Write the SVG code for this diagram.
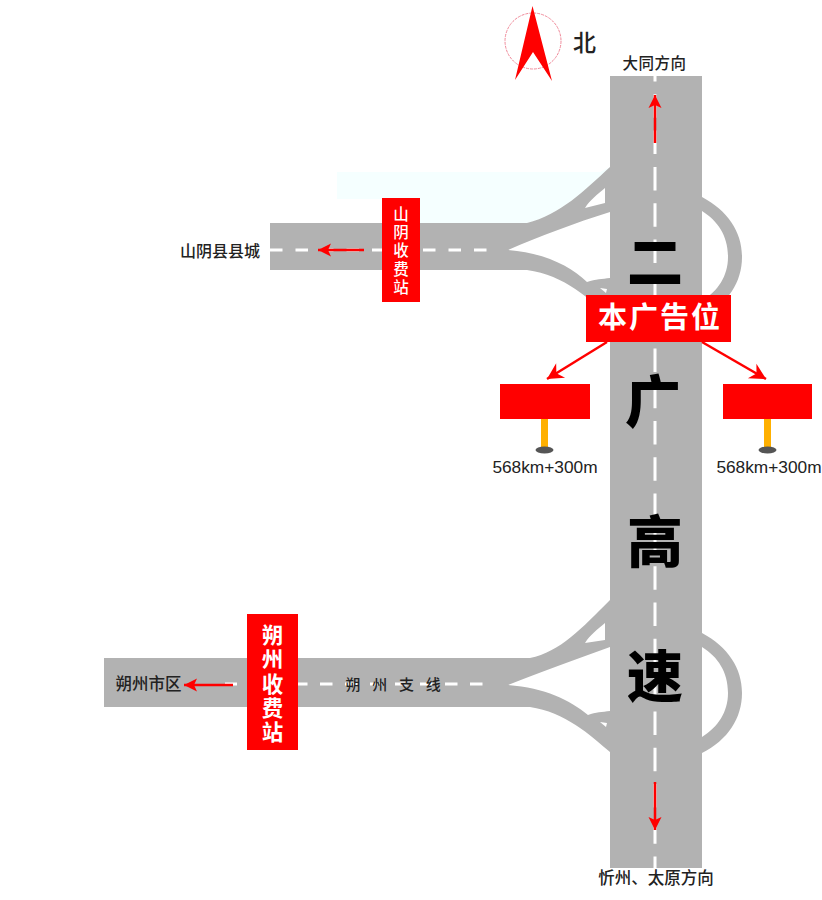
<svg xmlns="http://www.w3.org/2000/svg" width="822" height="900" viewBox="0 0 822 900">
<style>
text{font-family:"Noto Sans CJK SC","Liberation Sans",sans-serif;text-anchor:middle}
.road{fill:#b2b2b2}
.hole{fill:#fff}
.dash{fill:none;stroke:#fff;stroke-width:3}
.lab{font-size:15.5px;fill:#222;font-weight:500}
.big{font-size:56px;font-weight:900;fill:#000}
.sign{fill:#f00}
.s1{font-size:15.5px;fill:#fff;font-weight:500;writing-mode:vertical-rl;letter-spacing:2.9px}
.s2{font-size:21.5px;fill:#fff;font-weight:700;writing-mode:vertical-rl;letter-spacing:2.8px}
.km{font-family:"Liberation Sans",sans-serif;font-size:17.3px;fill:#222}
.ln{fill:none;stroke:#f00;stroke-width:2.5}
</style>
<defs>
<marker id="ah" markerUnits="userSpaceOnUse" markerWidth="14" markerHeight="14" refX="13" refY="7" orient="auto"><path d="M0,0.5 L13,7 L0,13.500 L3,7Z" fill="#f00"/></marker>
<marker id="ad" markerUnits="userSpaceOnUse" markerWidth="19" markerHeight="18" refX="18" refY="9" orient="auto"><path d="M2,0.5 L18,9 L2,17.500 L7,9Z" fill="#f00"/></marker>
</defs>
<g id="backdrop"><path d="M337,172 H600 L610,167 C585,190 560,215 527,223 H420 V199 H337Z" fill="#f5ffff"/></g>
<g id="north">
<circle cx="533" cy="41" r="28" fill="none" stroke="#f08a9a" stroke-width="1" stroke-dasharray="3 1"/>
<path d="M532.5,6 L552,81 L533,52 L515,80Z" fill="#f00"/>
<text x="584.500" y="51" style="font-size:23px;font-weight:500;fill:#222">北</text>
</g>
<g id="interchange-north">
<path class="road" d="M270,223 L527,223 C560,215 585,190 610,167 L610,212 C575,223 540,236 508,250 C545,253 570,266 587,282 C596,279 602,279 610,278 L610,317 C590,300 565,275 527,270 L270,270Z"/>
<path class="road" d="M702,197 C728,211 742,232 742,257 C742,282 728,304 702,317 L702,301 C718,291 728,276 728,257 C728,236 718,221 702,211Z"/>
</g>
<g id="interchange-south">
<path class="road" d="M104,658 L530,658 C560,652 582,628 610,600 L610,647 C575,660 540,672 508,685 C545,688 570,700 588,715 C596,712 602,712 610,711 L610,752 C590,735 565,712 530,707 L104,707Z"/>
<path class="road" d="M702,633 C728,647 742,668 742,693 C742,718 728,740 702,753 L702,737 C718,727 728,712 728,693 C728,672 718,657 702,647Z"/>
</g>
<g id="main-road">
<rect class="road" x="610" y="76" width="92" height="792"/>
<path class="hole" d="M605,188 L605,203 L585,208 C590,200 598,194 605,188Z"/>
<path class="hole" d="M605,623 L605,640 L585,643 C590,635 598,629 605,623Z"/>
<path class="hole" d="M600,722 L607,723 L606,727Z"/>
<path class="hole" d="M600,288 L607,289 L606,293Z"/>
</g>
<g id="connectors">
<path class="dash" stroke-dasharray="23.500 12.800" stroke-dashoffset="18" d="M655,76 V868"/>
<path class="dash" stroke-dasharray="12.500 13" d="M270,250 H487"/>
<path class="dash" stroke-dasharray="12.500 12.500" d="M225,684 H237 M295,684 H483"/>
<path class="ln" marker-end="url(#ah)" d="M655,143 V95"/>
<path class="ln" marker-end="url(#ah)" d="M655,782 V830"/>
<path class="ln" marker-end="url(#ah)" d="M364,250 H318"/>
<path class="ln" marker-end="url(#ah)" d="M233,685 H184"/>
<path class="ln" marker-end="url(#ad)" d="M607,342 L547,379"/>
<path class="ln" marker-end="url(#ad)" d="M702,342 L766,379"/>
</g>
<g id="road-name">
<text class="big" x="655" y="282">二</text>
<text class="big" x="653" y="422">广</text>
<text class="big" x="655" y="562">高</text>
<text class="big" x="655" y="697">速</text>
</g>
<g id="labels">
<text class="lab" x="654.500" y="69" style="letter-spacing:.5px">大同方向</text>
<text class="lab" x="656" y="884" style="font-size:16.500px">忻州、太原方向</text>
<text class="lab" x="220" y="257" style="font-size:16px">山阴县县城</text>
<text class="lab" x="148.500" y="690" style="font-size:16.500px">朔州市区</text>
<text class="lab" x="399" y="690" style="font-size:15px;letter-spacing:11.700px">朔州支线</text>
</g>
<g id="toll-shanyin">
<rect class="sign" x="382" y="198" width="38" height="104"/>
<text class="s1" x="401" y="252">山阴收费站</text>
</g>
<g id="toll-shuozhou">
<rect class="sign" x="247" y="614" width="51" height="136"/>
<text class="s2" x="272.500" y="685">朔州收费站</text>
</g>
<g id="ad-position">
<rect class="sign" x="586" y="295" width="145" height="47"/>
<text x="660" y="328" style="font-size:29px;font-weight:700;fill:#fff;letter-spacing:2px">本广告位</text>
</g>
<g id="billboard-west">
<rect x="541" y="419" width="7" height="31" fill="#ffb000"/>
<ellipse cx="544.500" cy="450" rx="9" ry="3.500" fill="#555"/>
<rect class="sign" x="500" y="384" width="90" height="35"/>
<text class="km" x="545" y="473">568km+300m</text>
</g>
<g id="billboard-east">
<rect x="764" y="419" width="7" height="31" fill="#ffb000"/>
<ellipse cx="767.500" cy="450" rx="9" ry="3.500" fill="#555"/>
<rect class="sign" x="723" y="384" width="89" height="35"/>
<text class="km" x="769" y="473">568km+300m</text>
</g>
</svg>
